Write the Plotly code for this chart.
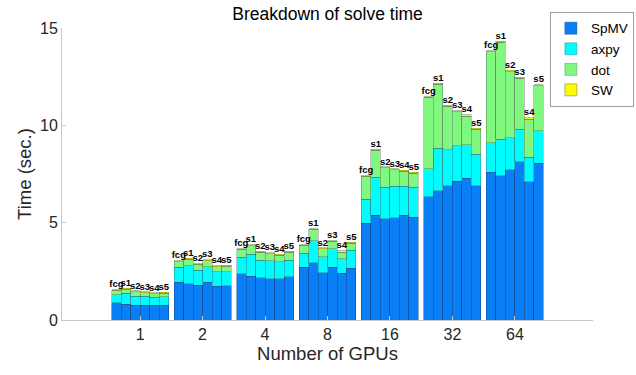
import plotly.graph_objects as go

groups = ["1", "2", "4", "8", "16", "32", "64"]
solvers = ["fcg", "s1", "s2", "s3", "s4", "s5"]

# cumulative tops (per group, per solver)
spmv_top = [
    [0.89, 0.82, 0.77, 0.77, 0.76, 0.77],
    [1.95, 1.87, 1.78, 1.95, 1.73, 1.75],
    [2.38, 2.26, 2.16, 2.11, 2.11, 2.21],
    [2.71, 2.94, 2.43, 2.71, 2.40, 2.65],
    [4.98, 5.38, 5.19, 5.26, 5.38, 5.27],
    [6.33, 6.63, 6.90, 7.12, 7.29, 6.90],
    [7.60, 7.40, 7.72, 8.13, 7.09, 8.05],
]
axpy_top = [
    [1.30, 1.37, 1.23, 1.22, 1.17, 1.19],
    [2.71, 2.79, 2.55, 2.74, 2.47, 2.47],
    [3.22, 3.39, 3.06, 3.05, 3.00, 3.06],
    [3.42, 4.07, 3.24, 3.66, 3.15, 3.58],
    [6.20, 7.33, 6.82, 6.87, 6.87, 6.82],
    [7.76, 8.83, 8.75, 8.94, 9.00, 8.51],
    [9.11, 9.28, 9.35, 9.79, 8.37, 9.72],
]
dot_top = [
    [1.52, 1.59, 1.45, 1.40, 1.35, 1.38],
    [3.00, 3.13, 2.86, 3.05, 2.74, 2.76],
    [3.63, 3.82, 3.48, 3.41, 3.32, 3.48],
    [3.83, 4.66, 3.66, 4.04, 3.48, 3.95],
    [7.38, 8.72, 7.82, 7.72, 7.65, 7.55],
    [11.44, 12.10, 10.97, 10.70, 10.46, 9.79],
    [13.78, 14.26, 12.75, 12.41, 10.32, 12.03],
]
sw_vals = [
    [0.04, 0.04, 0.04, 0.04, 0.04, 0.04],
    [0.04, 0.04, 0.04, 0.04, 0.05, 0.04],
    [0.04, 0.04, 0.04, 0.04, 0.05, 0.04],
    [0.04, 0.04, 0.04, 0.04, 0.08, 0.04],
    [0.04, 0.04, 0.04, 0.04, 0.04, 0.04],
    [0.04, 0.05, 0.05, 0.05, 0.08, 0.05],
    [0.05, 0.05, 0.08, 0.06, 0.08, 0.06],
]

bar_w = 0.152
xs, spmv, axpy, dot, sw, tops, labels = [], [], [], [], [], [], []
for gi in range(len(groups)):
    for sj in range(len(solvers)):
        xs.append(gi + 1 + (sj - 2.5) * bar_w)
        spmv.append(spmv_top[gi][sj])
        axpy.append(axpy_top[gi][sj] - spmv_top[gi][sj])
        dot.append(dot_top[gi][sj] - axpy_top[gi][sj])
        sw.append(sw_vals[gi][sj])
        tops.append(dot_top[gi][sj] + sw_vals[gi][sj])
        labels.append(solvers[sj])

font = "Liberation Sans, Arial, sans-serif"

fig = go.Figure()
for name, vals, col, ec in [("SpMV", spmv, "#0a7ef4", "rgba(20,70,140,0.6)"),
                            ("axpy", axpy, "#00fcfc", "rgba(60,90,110,0.45)"),
                            ("dot", dot, "#80f880", "rgba(80,90,80,0.45)"),
                            ("SW", sw, "#fcfc00", "rgba(110,110,60,0.6)")]:
    fig.add_trace(go.Bar(x=xs, y=vals, name=name, width=bar_w,
                         marker=dict(color=col, line=dict(color=ec, width=0.8))))

fig.add_trace(go.Scatter(x=xs, y=tops, mode="text", text=labels,
                         textposition="top center", showlegend=False,
                         textfont=dict(family=font, size=9.5, color="black"),
                         texttemplate="<b>%{text}</b>", hoverinfo="skip"))

fig.update_layout(
    barmode="stack",
    width=636, height=375,
    margin=dict(l=62, r=43, t=28, b=55, autoexpand=False),
    paper_bgcolor="white", plot_bgcolor="white",
    font=dict(family=font, size=16, color="#262626"),
    title=dict(text="Breakdown of solve time", x=0.515, xanchor="center",
               y=0.963, yanchor="middle", font=dict(size=17.5, color="black")),
    legend=dict(x=1.077, y=1.055, xanchor="right", yanchor="top",
                traceorder="normal",
                bordercolor="#a0a0a0", borderwidth=1, bgcolor="white",
                font=dict(size=13.5, color="black"), tracegroupgap=0,
                itemwidth=30),
    xaxis=dict(range=[-0.25, 8.25], tickmode="array",
               tickvals=list(range(1, len(groups) + 1)), ticktext=groups,
               showline=True, linecolor="#c8c8c8", linewidth=1,
               ticks="inside", ticklen=4, tickcolor="#c8c8c8",
               showgrid=False, zeroline=False,
               title=dict(text="Number of GPUs", font=dict(size=18.5), standoff=4)),
    yaxis=dict(range=[0, 15], tickvals=[0, 5, 10, 15],
               showline=True, linecolor="#c8c8c8", linewidth=1,
               ticks="inside", ticklen=4, tickcolor="#c8c8c8",
               showgrid=False, zeroline=False,
               title=dict(text="Time (sec.)", font=dict(size=18.5), standoff=3)),
)

fig.write_html("out.html")
